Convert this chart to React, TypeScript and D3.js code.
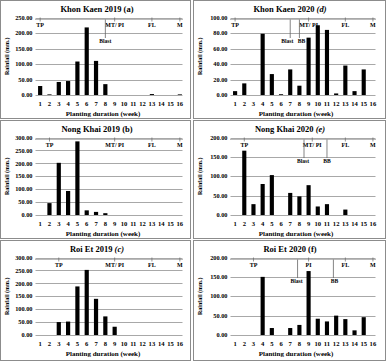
import React from 'react';
import * as d3 from 'd3';

// weekly rainfall (mm.) per planting week
const weekLabels = ['1', '2', '3', '4', '5', '6', '7', '8', '9', '10', '11', '12', '13', '14', '15', '16'];

const khonKaen2019 = [29, 2, 42, 45, 108, 218, 110, 35, 0, 0, 0, 0, 3, 0, 0, 2];
const khonKaen2020 = [5, 15, 0, 79, 27, 1, 33, 12, 74, 90, 84, 2, 38, 5, 33, 0];
const nongKhai2019 = [0, 46, 202, 93, 285, 18, 12, 7, 0, 0, 0, 0, 0, 0, 0, 0];
const nongKhai2020 = [0, 166, 28, 80, 103, 0, 57, 48, 77, 22, 28, 0, 14, 0, 0, 0];
const roiEt2019 = [0, 0, 50, 52, 188, 252, 140, 72, 32, 0, 0, 0, 0, 0, 0, 0];
const roiEt2020 = [0, 0, 0, 150, 18, 0, 18, 26, 165, 42, 35, 50, 41, 12, 46, 0];

// growth stages on the top line: [label, week]
const kk19Stages: [string, number][] = [['TP', 1], ['MT/ PI', 9], ['FL', 13], ['M', 16]];
const kk20Stages: [string, number][] = [['TP', 1], ['MT/ PI', 9], ['FL', 13], ['M', 16]];
const nk19Stages: [string, number][] = [['TP', 2], ['MT/ PI', 9], ['FL', 13], ['M', 16]];
const nk20Stages: [string, number][] = [['TP', 2], ['MT/ PI', 9.4], ['FL', 13], ['M', 16]];
const re19Stages: [string, number][] = [['TP', 3], ['MT/ PI', 9], ['FL', 13], ['M', 16]];
const re20Stages: [string, number][] = [['TP', 3], ['PI', 9], ['FL', 13], ['M', 16]];

// disease events hanging from the top line: [label, week, label shift]
const kk19Events: [string, number, number][] = [['Blast', 8, 0]];
const kk20Events: [string, number, number][] = [['Blast', 7, -3], ['BB', 8, 2]];
const nk19Events: [string, number, number][] = [];
const nk20Events: [string, number, number][] = [['Blast', 8.5, -1], ['BB', 11, 0]];
const re19Events: [string, number, number][] = [];
const re20Events: [string, number, number][] = [['Blast', 7.8, -1], ['BB', 11.7, 1]];

const panels = [
  { title: 'Khon Kaen 2019', tag: '(a)', italic: false, values: khonKaen2019, yMax: 250, step: 50, stages: kk19Stages, events: kk19Events, col: 0, row: 0 },
  { title: 'Khon Kaen 2020', tag: '(d)', italic: true, values: khonKaen2020, yMax: 100, step: 20, stages: kk20Stages, events: kk20Events, col: 1, row: 0 },
  { title: 'Nong Khai 2019', tag: '(b)', italic: false, values: nongKhai2019, yMax: 300, step: 50, stages: nk19Stages, events: nk19Events, col: 0, row: 1 },
  { title: 'Nong Khai 2020', tag: '(e)', italic: true, values: nongKhai2020, yMax: 200, step: 50, stages: nk20Stages, events: nk20Events, col: 1, row: 1 },
  { title: 'Roi Et 2019', tag: '(c)', italic: true, values: roiEt2019, yMax: 300, step: 50, stages: re19Stages, events: re19Events, col: 0, row: 2 },
  { title: 'Roi Et 2020', tag: '(f)', italic: false, values: roiEt2020, yMax: 200, step: 50, stages: re20Stages, events: re20Events, col: 1, row: 2 },
];

const font = '"Liberation Serif", "DejaVu Serif", serif';
const grid = '#a8a8a8';

function Panel({ p }: { p: any }) {
  const x0 = p.col === 0 ? 0 : 193;
  const y0 = p.row * 120;
  const left = x0 + (p.col === 0 ? 35.5 : 37.5);
  const right = x0 + 184.5;
  const top = y0 + 17.5;
  const bottom = y0 + 95;

  const x = d3.scaleBand().domain(weekLabels).range([left, right]).paddingInner(0.55).paddingOuter(0.275);
  const y = d3.scaleLinear().domain([0, p.yMax]).range([bottom, top]);
  const ticks = d3.range(0, p.yMax + p.step / 2, p.step);
  const step = x.step();
  const c1 = (x('1') as number) + x.bandwidth() / 2;
  const wx = (w: number) => c1 + (w - 1) * step;
  const lineY = top + 2;
  const panelH = p.row === 2 ? 120 : 118;

  return (
    <g>
      <rect x={x0 + 0.5} y={y0 + 0.5} width={p.col === 0 ? 190 : 192} height={panelH} fill="#fff" stroke="#8c8c8c" />
      <text x={x0 + 97} y={y0 + 11.5} textAnchor="middle" fontSize={8.5} fontWeight="bold">
        {p.title + ' '}
        <tspan fontStyle={p.italic ? 'italic' : 'normal'}>{p.tag}</tspan>
      </text>
      {ticks.map((t: number) => (
        <g key={t}>
          <line x1={left} x2={right - 2} y1={Math.round(y(t)) + 0.5} y2={Math.round(y(t)) + 0.5} stroke={grid} strokeWidth={1} />
          <text x={left - 3} y={y(t) + 2.2} textAnchor="end" fontSize={6.3} fontWeight="bold">
            {t.toFixed(2)}
          </text>
        </g>
      ))}
      {p.values.map((v: number, i: number) => (
        <rect
          key={i}
          x={x(weekLabels[i])}
          y={y(v)}
          width={x.bandwidth()}
          height={bottom - y(v)}
          fill="#000"
        />
      ))}
      {weekLabels.map((w) => (
        <text key={w} x={(x(w) as number) + x.bandwidth() / 2} y={y0 + 105.5} textAnchor="middle" fontSize={6.6} fontWeight="bold">
          {w}
        </text>
      ))}
      <line x1={left} x2={right - 2} y1={lineY} y2={lineY} stroke="#777" strokeDasharray="1,1" />
      {p.stages.map(([label, w]: [string, number]) => (
        <g key={label}>
          <line x1={wx(w)} x2={wx(w)} y1={lineY - 2} y2={lineY + 2} stroke="#666" strokeWidth={0.7} />
          <text x={wx(w)} y={y0 + 26.5} textAnchor="middle" fontSize={6} fontWeight="bold">
            {label}
          </text>
        </g>
      ))}
      {p.events.map(([label, w, dx]: [string, number, number]) => (
        <g key={label}>
          <line x1={wx(w)} x2={wx(w)} y1={lineY} y2={y0 + 38} stroke="#666" strokeWidth={0.8} />
          <text x={wx(w) + dx} y={y0 + 43} textAnchor="middle" fontSize={5.6} fontWeight="bold">
            {label}
          </text>
        </g>
      ))}
      <text x={x0 + 103} y={y0 + 115.5} textAnchor="middle" fontSize={7} fontWeight="bold">
        Planting duration (week)
      </text>
      <text
        transform={`translate(${x0 + 8.5},${(top + bottom) / 2}) rotate(-90)`}
        textAnchor="middle"
        fontSize={6}
        fontWeight="bold"
      >
        Rainfall (mm.)
      </text>
    </g>
  );
}

export default function App() {
  return (
    <svg
      width={386}
      height={361}
      style={{ position: 'absolute', left: 0, top: 0, display: 'block', fontFamily: font }}
    >
      <rect width={386} height={361} fill="#fff" />
      {panels.map((p) => (
        <Panel key={p.tag} p={p} />
      ))}
    </svg>
  );
}
